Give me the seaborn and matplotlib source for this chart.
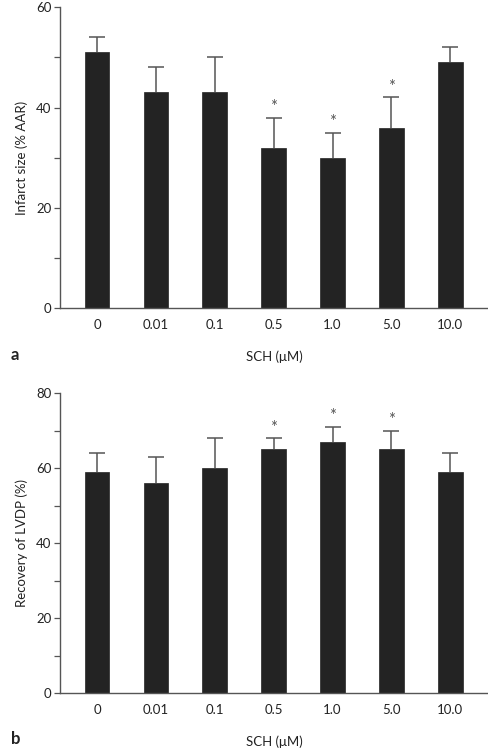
import numpy as np
import pandas as pd
import seaborn as sns
import matplotlib.pyplot as plt
from matplotlib.ticker import MultipleLocator

dose = ['0', '0.01', '0.1', '0.5', '1.0', '5.0', '10.0']

infarct = [51, 43, 43, 32, 30, 36, 49]
infarct_err = [3, 5, 7, 6, 5, 6, 3]
infarct_sig = [False, False, False, True, True, True, False]

lvdp = [59, 56, 60, 65, 67, 65, 59]
lvdp_err = [5, 7, 8, 3, 4, 5, 5]
lvdp_sig = [False, False, False, True, True, True, False]

sns.set_style('ticks')
plt.rcParams['font.family'] = ['Lato', 'DejaVu Sans']

bar_col = '#232323'
line_col = '#555555'


def panel(ax, vals, errs, sig, ymax, ylab, letter):
    df = pd.DataFrame({'dose': dose, 'val': vals})
    sns.barplot(x='dose', y='val', data=df, color=bar_col, width=0.42,
                saturation=1, errorbar=None, ax=ax)
    for p in ax.patches:
        p.set_edgecolor(bar_col)
        p.set_linewidth(0.5)
        p.set_zorder(3)
    x = np.arange(len(dose))
    eb = ax.errorbar(x, vals, yerr=[np.zeros(len(vals)), errs], fmt='none',
                     ecolor=line_col, elinewidth=1.1, capsize=6, capthick=1.1, zorder=1)
    # drop the lower (zero-length) caps sitting on the bar tops
    eb[1][0].remove()
    for i, s in enumerate(sig):
        if s:
            ax.text(i, vals[i] + errs[i] + ymax * 0.008, '*', ha='center',
                    va='bottom', fontsize=12, color=line_col)
    ax.set_xlim(-0.63, 6.64)
    ax.set_ylim(0, ymax)
    ax.yaxis.set_major_locator(MultipleLocator(20))
    ax.yaxis.set_minor_locator(MultipleLocator(10))
    ax.tick_params(axis='y', which='both', direction='out', length=4,
                   width=0.9, color=line_col, labelsize=9.5, labelcolor='#222222', pad=2)
    ax.tick_params(axis='x', length=0, labelsize=9.5, labelcolor='#222222', pad=8)
    for sp in ['top', 'right']:
        ax.spines[sp].set_visible(False)
    for sp in ['left', 'bottom']:
        ax.spines[sp].set_color(line_col)
        ax.spines[sp].set_linewidth(1.0)
        ax.spines[sp].set_zorder(4)
    ax.set_ylabel(ylab, fontsize=9.5, color='#222222', labelpad=6)
    ax.set_xlabel('SCH (\u03bcM)', fontsize=9.5, color='#222222', labelpad=14)
    ax.text(-0.115, -0.155, letter, transform=ax.transAxes, fontsize=12,
            fontweight='bold', color='#222222', va='center')
    return ax


fig = plt.figure(figsize=(4.88, 7.5), dpi=100)
ax1 = fig.add_axes([0.123, 0.5893, 0.877, 0.401])
ax2 = fig.add_axes([0.123, 0.076, 0.877, 0.400])

panel(ax1, infarct, infarct_err, infarct_sig, 60, 'Infarct size (% AAR)', 'a')
panel(ax2, lvdp, lvdp_err, lvdp_sig, 80, 'Recovery of LVDP (%)', 'b')

fig.savefig('out.png', dpi=100)
